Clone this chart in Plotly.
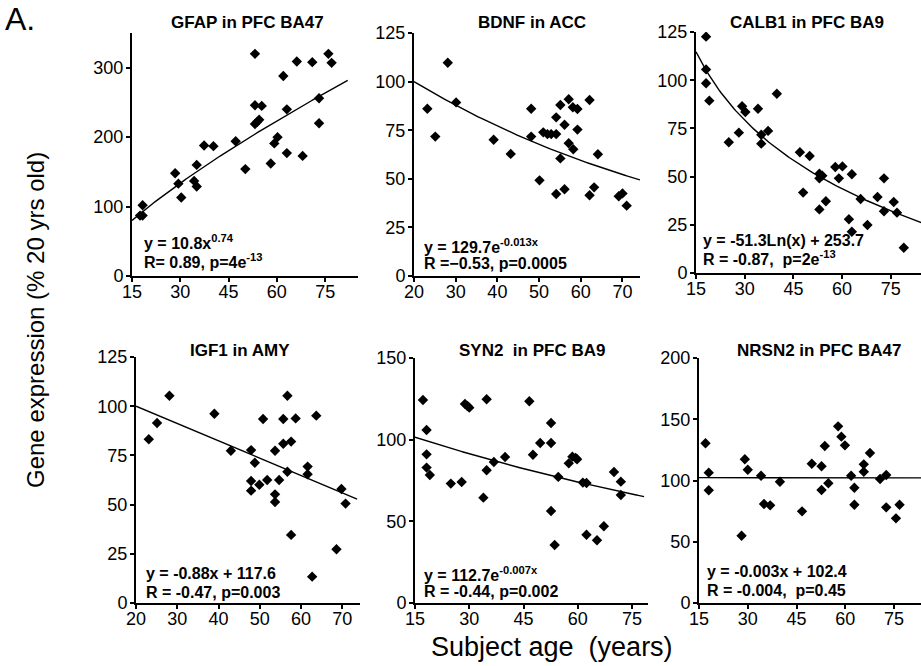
import numpy as np
import plotly.graph_objects as go

W, H = 921, 666

# ---------------- data ----------------
gfap_age = [17.5, 18.3, 18.3, 28.4, 29.4, 30.3, 34.3, 35.1, 35.1, 37.4, 40.3, 47.2, 50.2,
            53.2, 53.2, 55.3, 53.2, 53.9, 54.5, 58.1, 59.2, 60.2, 62.0, 63.1, 63.1, 66.2,
            68.0, 71.0, 73.1, 73.1, 76.0, 77.0]
gfap_val = [87, 87, 102, 148, 133, 113, 137, 129, 160, 188, 187, 194, 154,
            320, 246, 245, 219, 222, 225, 162, 191, 200, 288, 240, 177, 309,
            173, 308, 256, 220, 320, 307]

bdnf_age = [23.2, 25.1, 28.1, 30.1, 39.1, 43.2, 48.1, 48.1, 50.1, 51.0, 52.0, 52.9, 54.1,
            54.1, 55.1, 55.1, 56.1, 54.1, 56.1, 57.1, 57.1, 58.1, 59.2, 59.2, 58.2, 62.1,
            62.1, 63.2, 64.1, 69.1, 70.0, 71.0]
bdnf_val = [86, 71.7, 109.7, 89.3, 70.1, 62.8, 86, 71.7, 49.2, 73.9, 73, 73, 73,
            81.6, 88, 60.5, 77.8, 42.2, 44.6, 90.9, 68.3, 86.8, 85.9, 75.3, 65.2, 90.5,
            41.5, 45.6, 62.6, 41, 42.5, 36.2]

calb1_age = [18.1, 18.1, 18.1, 19.1, 25.1, 28.2, 29.2, 30.2, 34.1, 35.1, 35.1, 37.2, 39.9,
             47.0, 50.0, 48.0, 53.0, 53.0, 53.9, 53.0, 55.0, 57.9, 60.1, 59.0, 63.0, 62.1,
             63.0, 65.7, 67.8, 70.9, 72.9, 72.9, 75.9, 76.9, 79.0]
calb1_val = [122.6, 105.6, 98.4, 89.4, 67.8, 72.8, 86.5, 83.5, 85.2, 71.7, 67.1, 73.7, 93.0,
             62.6, 60.7, 41.7, 51.5, 49.1, 50.5, 33.0, 37.2, 55.0, 55.3, 49.1, 51.2, 27.9,
             21.4, 38.4, 24.9, 39.4, 49.1, 32.0, 36.8, 31.3, 13.1]

igf1_age = [23.1, 25.1, 28.1, 39.0, 43.0, 47.9, 48.8, 47.9, 47.9, 49.9, 50.8, 51.8, 53.7,
            53.7, 53.7, 54.7, 55.7, 55.7, 56.7, 56.7, 57.6, 57.6, 58.7, 61.6, 61.6, 63.7,
            62.7, 69.8, 70.8, 68.6]
igf1_val = [83.2, 91.5, 105.3, 96.2, 77.4, 77.7, 71.3, 62.0, 57.1, 60.1, 93.5, 62.5, 77.4,
            55.2, 51.3, 62.5, 93.5, 80.9, 105.3, 66.7, 82.0, 34.6, 93.8, 69.3, 65.4, 95.2,
            13.4, 57.9, 50.5, 27.3]

syn2_age = [17.2, 18.2, 18.2, 18.2, 19.1, 24.9, 27.9, 28.8, 29.5, 30.0, 33.9, 34.8, 34.8,
            36.8, 39.9, 46.6, 47.6, 49.6, 52.6, 52.6, 52.6, 53.6, 54.6, 57.5, 58.5, 59.4,
            59.8, 61.4, 62.4, 62.4, 65.3, 67.2, 70.0, 71.9, 71.9]
syn2_val = [124.3, 105.9, 91.0, 82.9, 78.4, 73.1, 74.1, 121.9, 120.6, 119.6, 64.5, 124.7, 81.3,
            86.3, 89.4, 123.5, 90.8, 98.0, 110.2, 98.0, 56.3, 35.5, 77.2, 85.5, 89.6, 88.8,
            88.0, 73.7, 73.5, 41.8, 38.4, 47.0, 80.2, 74.3, 66.1]

nrsn2_age = [17.0, 18.0, 18.0, 28.1, 29.1, 30.0, 34.1, 35.0, 36.9, 39.9, 46.7, 49.7, 52.7,
             52.7, 53.7, 54.8, 57.8, 58.8, 59.9, 61.8, 62.8, 62.8, 65.7, 65.7, 67.6, 70.7,
             72.6, 72.6, 75.6, 76.7]
nrsn2_val = [130.4, 106.4, 92.0, 54.9, 117.3, 108.8, 103.9, 80.8, 79.7, 99.0, 74.8, 113.7, 111.6,
             92.2, 128.2, 97.7, 144.2, 135.8, 128.7, 103.9, 94.1, 80.2, 113.2, 107.2, 122.4, 101.2,
             104.5, 78.1, 69.1, 80.2]

# fitted curves as printed on each panel
gfap_fit = (10.8, 0.74)        # y = a x^b
bdnf_fit = (129.7, -0.013)     # y = a e^(b x)
calb1_fit = (-51.3, 253.7)     # y = a ln(x) + b
igf1_fit = (-0.88, 117.6)      # y = a x + b
syn2_fit = (112.7, -0.007)     # y = a e^(b x)
nrsn2_fit = (-0.003, 102.4)    # y = a x + b

titles = ["GFAP in PFC BA47", "BDNF in ACC", "CALB1 in PFC BA9",
          "IGF1 in AMY", "SYN2  in PFC BA9", "NRSN2 in PFC BA47"]
eq_lines = [("y = 10.8x<sup>0.74</sup>", "R= 0.89, p=4e<sup>-13</sup>"),
            ("y = 129.7e<sup>-0.013x</sup>", "R =\u22120.53, p=0.0005"),
            ("y = -51.3Ln(x) + 253.7", "R = -0.87,  p=2e<sup>-13</sup>"),
            ("y = -0.88x + 117.6", "R = -0.47, p=0.003"),
            ("y = 112.7e<sup>-0.007x</sup>", "R = -0.44, p=0.002"),
            ("y = -0.003x + 102.4", "R = -0.004,  p=0.45")]

x_ticks = [[15, 30, 45, 60, 75], [20, 30, 40, 50, 60, 70], [15, 30, 45, 60, 75],
           [20, 30, 40, 50, 60, 70], [15, 30, 45, 60, 75], [15, 30, 45, 60, 75]]
y_ticks = [[0, 100, 200, 300], [0, 25, 50, 75, 100, 125], [0, 25, 50, 75, 100, 125],
           [0, 25, 50, 75, 100, 125], [0, 50, 100, 150], [0, 50, 100, 150, 200]]

# ---------------- layout geometry (pixels) ----------------
dom = [(132, 358, 33, 276), (414, 640, 33, 276), (696, 921, 32, 273),
       (136, 360, 357, 603), (415, 648, 358, 603), (699, 921, 358, 603)]
xr = [(15, 85.2), (20, 74.2), (15, 84.3), (20, 74.3), (15, 79.4), (15, 83.3)]
yr = [(0, 350), (0, 125), (0, 125), (0, 125), (0, 150), (0, 200)]
line_x = [(15, 82), (20, 74.2), (15, 85), (20, 73.6), (15, 78.3), (15, 85)]
title_pos = [(247, 23), (532, 22), (807, 23), (240, 350), (532, 351), (819, 351)]
eq_pos = [(142, 242, 261), (422, 246, 264), (701, 240, 258),
          (144, 573, 592), (422, 574, 591), (705, 571, 590)]

def px(x):
    return x / W

def py(y):
    return 1 - y / H

fits = [lambda x: gfap_fit[0] * x ** gfap_fit[1],
        lambda x: bdnf_fit[0] * np.exp(bdnf_fit[1] * x),
        lambda x: calb1_fit[0] * np.log(x) + calb1_fit[1],
        lambda x: igf1_fit[0] * x + igf1_fit[1],
        lambda x: syn2_fit[0] * np.exp(syn2_fit[1] * x),
        lambda x: nrsn2_fit[0] * x + nrsn2_fit[1]]
ages = [gfap_age, bdnf_age, calb1_age, igf1_age, syn2_age, nrsn2_age]
vals = [gfap_val, bdnf_val, calb1_val, igf1_val, syn2_val, nrsn2_val]

FONT = "Liberation Sans, Arial, Helvetica, sans-serif"
fig = go.Figure()
layout = dict(width=W, height=H, margin=dict(l=0, r=0, t=0, b=0),
              template="none", showlegend=False,
              paper_bgcolor="white", plot_bgcolor="white",
              font=dict(family=FONT, color="black"))
annotations = []

for i in range(6):
    k = "" if i == 0 else str(i + 1)
    xa, ya = "x" + k, "y" + k
    x0, x1, y0, y1 = dom[i]
    axis_common = dict(showline=True, linecolor="black", linewidth=2, ticks="outside",
                       ticklen=4, tickwidth=1.5, tickcolor="black", showgrid=False,
                       zeroline=False, automargin=False,
                       tickfont=dict(family=FONT, size=18, color="black"))
    layout["xaxis" + k] = dict(domain=[px(x0), px(x1)], range=list(xr[i]),
                               tickvals=x_ticks[i], anchor=ya, ticklabelstandoff=-6,
                               **axis_common)
    layout["yaxis" + k] = dict(domain=[py(y1), py(y0)], range=list(yr[i]),
                               tickvals=y_ticks[i], anchor=xa, ticklabelstandoff=-1,
                               **axis_common)
    lx = np.linspace(line_x[i][0], line_x[i][1], 120)
    fig.add_trace(go.Scatter(x=lx, y=fits[i](lx), mode="lines",
                             line=dict(color="black", width=1.4),
                             xaxis=xa, yaxis=ya, hoverinfo="skip"))
    fig.add_trace(go.Scatter(x=ages[i], y=vals[i], mode="markers",
                             marker=dict(symbol="diamond", size=8, color="black"),
                             xaxis=xa, yaxis=ya))
    tx, ty = title_pos[i]
    annotations.append(dict(text="<b>" + titles[i] + "</b>", x=px(tx), y=py(ty),
                            xref="paper", yref="paper", showarrow=False,
                            xanchor="center", yanchor="middle",
                            font=dict(family=FONT, size=17, color="black")))
    ex, ey1, ey2 = eq_pos[i]
    for txt, yy in zip(eq_lines[i], (ey1, ey2)):
        annotations.append(dict(text="<b>" + txt + "</b>", x=px(ex), y=py(yy),
                                xref="paper", yref="paper", showarrow=False,
                                xanchor="left", yanchor="middle",
                                font=dict(family=FONT, size=16, color="black")))

annotations.append(dict(text="A.", x=px(3), y=py(19), xref="paper", yref="paper",
                        showarrow=False, xanchor="left", yanchor="middle",
                        font=dict(family=FONT, size=32, color="black")))
annotations.append(dict(text="Gene expression (% 20 yrs old)", x=px(35), y=py(320),
                        xref="paper", yref="paper", showarrow=False, textangle=-90,
                        xanchor="center", yanchor="middle",
                        font=dict(family=FONT, size=24, color="black")))
annotations.append(dict(text="Subject age  (years)", x=px(552), y=py(647),
                        xref="paper", yref="paper", showarrow=False,
                        xanchor="center", yanchor="middle",
                        font=dict(family=FONT, size=27, color="black")))
layout["annotations"] = annotations
fig.update_layout(**layout)
fig.write_html("out.html")
